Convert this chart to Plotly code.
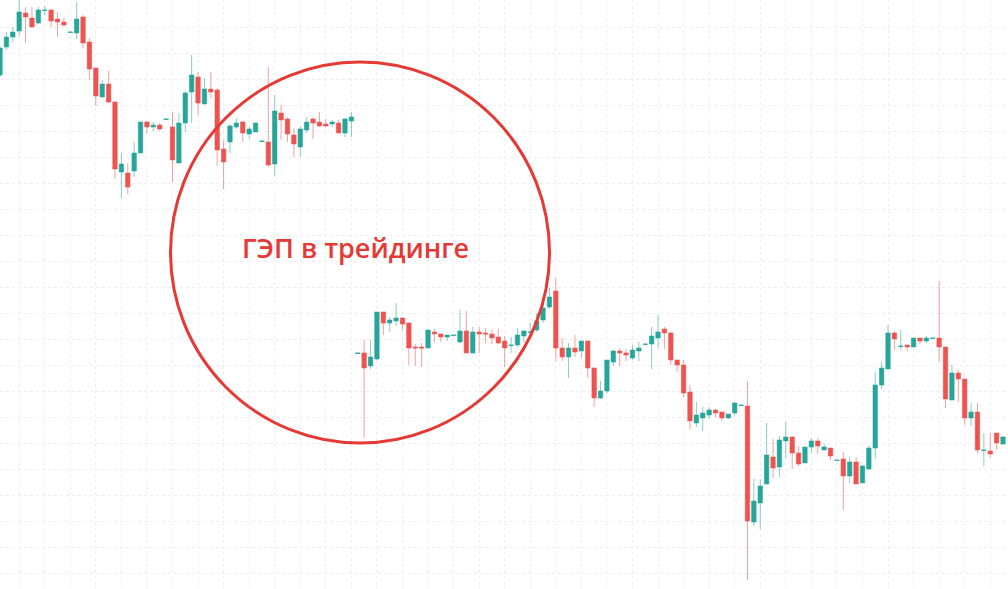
import plotly.graph_objects as go

# OHLC values (price units, one candle per period)
opens = [525,553,563,569,587,582,577,589.5,590,581,
         578,567.5,567,583,558,532,503,516,498,428,
         427,429,447,478,473,475,480.5,473,437,477,
         508,523,496,511,510,451,458,473,478,466,
         468,458.5,458,436,487,481,465,453,470,481,
         478,476,476,477,467,479,
         246.5,247,234,241,
         288,277,279,282,277,253,253,252,268,266,
         263,264.5,258,269,247,268,267,266,263,259,
         254.5,255,264,267.5,270,280,293,309,252,243,
         252,249,259,232,202,209,238,249,247,242,
         249,255.5,256,262,271,267,240,235,208,177,
         182,185,190,188,182,187,194.5,194,78,97,
         116,143,133,159,163,147,137,153,159,150,
         152,139.5,141,124,138,117,131,152,215,231,
         267,253.5,255,253,262,259,261.5,262,253,200,
         227,221,182,188,149.5,149,167,156]
highs = [554,568,573,600,593,593,593,594,591,588,
         582,568,598,585,562,532,520,529,499,447,
         437,458,478,479,478,477,481,488,487,509,
         545,528,522,528,512,460,476,482,479,473,
         477,459,533,505,495,483,472,474,483,483,
         488,481,480,480,482,488,
         247,260,260,288,
         288,283,297,283,277,256,257,270,271,266,
         265,265,290,289,273,273,272,270,271,264,
         263,272,270,277,287,300,312,322,262,257,
         265,259,259,232,219,240,250,252,251,255,
         258,256,273,285,273,268,240,240,215,198,
         193,193,191,188,186,198,195,219,121,121,
         177,161,164,178,164,154,153,162,162,156,
         152,140,148,143,143,135,155,228,238,275,
         269,270,255,262,262,264,262,319,253,235,
         230,221,197,197,167,167,167,164]
lows = [523,550,558,564,557,573,576,585,573,563,
        573,567.5,561,552,520,494,503,497,421,402,
        406,423,447,467,469,469,480.5,418,437,468,
        477,485,496,502,434,411,447,471,458,461,
        468,458.5,433,424,460,458,443,443,467,461,
        473,473,473,467,463,463,
        246.5,162,231,240,
        265,268,274,270,235,234,233,252,258,258,
        259,264.5,257,247,247,247,257,256,256,233,
        247,253,257,266,268,277,291,239,239,222,
        243,242,222,193,201,207,234,234,239,240,
        239,255.5,231,252,251,235,228,203,171,173,
        169,181,183,179,181,185,194.5,20,74,71,
        116,122,123,142,131,134,137,147,146,150,
        140,139.5,90,117,116,117,130,141,211,231,
        250,250,249,253,256,257,261.5,238,192,200,
        198,175,174,147,134,142,150,155]
closes = [552,563,568,588,583,573,590,590,579,578,
          575,568,581,557,531,504,516,498,431,436,
          413,447,478,473,475,471,481,440,477,507,
          525,497,511,508,450,438,474,477,467,471,
          477,459,435,489,480,466,456,471,478,477,
          474,474,478,467,481,483,
          247,232,243,288,
          277,280,282,276,252,252,252,270,266,263,
          265,265,269,247,268,266,266,262,257,252,
          255,265,269,268,279,292,303,252,243,252,
          248,259,232,202,209,240,249,247,245,250,
          252,256,264,268,267,240,235,207,179,185,
          187,190,187,182,186,197,195,79,99,114,
          145,132,160,163,147,136,153,159,154,153,
          144,140,124,138,116,134,152,215,232,267,
          261,254,253,262,259,262,262,253,201,227,
          221,182,188,150,150,146,157,163]

periods = list(range(len(closes)))
title_text = "ГЭП в трейдинге"

GREEN = "#26a69a"
RED = "#ef5350"
GREEN_WICK = "rgba(38,166,154,0.55)"
RED_WICK = "rgba(239,83,80,0.55)"
ACCENT = "#e53935"

body_hi = [max(o, c) for o, c in zip(opens, closes)]
body_lo = [min(o, c) for o, c in zip(opens, closes)]

fig = go.Figure()
# wicks (lighter)
fig.add_trace(go.Candlestick(
    x=periods, open=opens, high=highs, low=lows, close=closes,
    increasing=dict(line=dict(color=GREEN_WICK, width=1), fillcolor="rgba(0,0,0,0)"),
    decreasing=dict(line=dict(color=RED_WICK, width=1), fillcolor="rgba(0,0,0,0)"),
    whiskerwidth=0, showlegend=False, hoverinfo="skip"))
# bodies (solid)
fig.add_trace(go.Candlestick(
    x=periods, open=opens, high=body_hi, low=body_lo, close=closes,
    increasing=dict(line=dict(color=GREEN, width=0), fillcolor=GREEN),
    decreasing=dict(line=dict(color=RED, width=0), fillcolor=RED),
    whiskerwidth=0, showlegend=False))

W, H = 1008, 589
fig.update_layout(
    width=W, height=H, margin=dict(l=0, r=0, t=0, b=0),
    paper_bgcolor="white", plot_bgcolor="white",
    boxgap=0.3, boxgroupgap=0, boxmode="overlay",
    showlegend=False,
    xaxis=dict(range=[0, 157.78], showgrid=True, gridcolor="#eceef2", gridwidth=1,
               griddash="3px,3px", tick0=3, dtick=4, showticklabels=False,
               zeroline=False, ticks="", rangeslider=dict(visible=False), showline=False),
    yaxis=dict(range=[11, 600], showgrid=True, gridcolor="#eceef2", gridwidth=1,
               griddash="3px,3px", tick0=1, dtick=26, showticklabels=False,
               zeroline=False, ticks="", showline=False),
    shapes=[dict(type="circle", xref="paper", yref="paper",
                 x0=170.5 / W, x1=549.5 / W, y0=1 - 443 / H, y1=1 - 62 / H,
                 line=dict(color=ACCENT, width=3), fillcolor="rgba(0,0,0,0)", layer="above")],
    annotations=[dict(text=title_text, xref="paper", yref="paper",
                      x=355.5 / W, y=1 - 247 / H, xanchor="center", yanchor="middle",
                      showarrow=False,
                      font=dict(family="Open Sans", size=27, color=ACCENT, weight=600))],
)

fig.write_html("out.html", config={"displayModeBar": False, "staticPlot": True},
               post_script="document.body.style.margin='0';document.body.style.overflow='hidden';")
